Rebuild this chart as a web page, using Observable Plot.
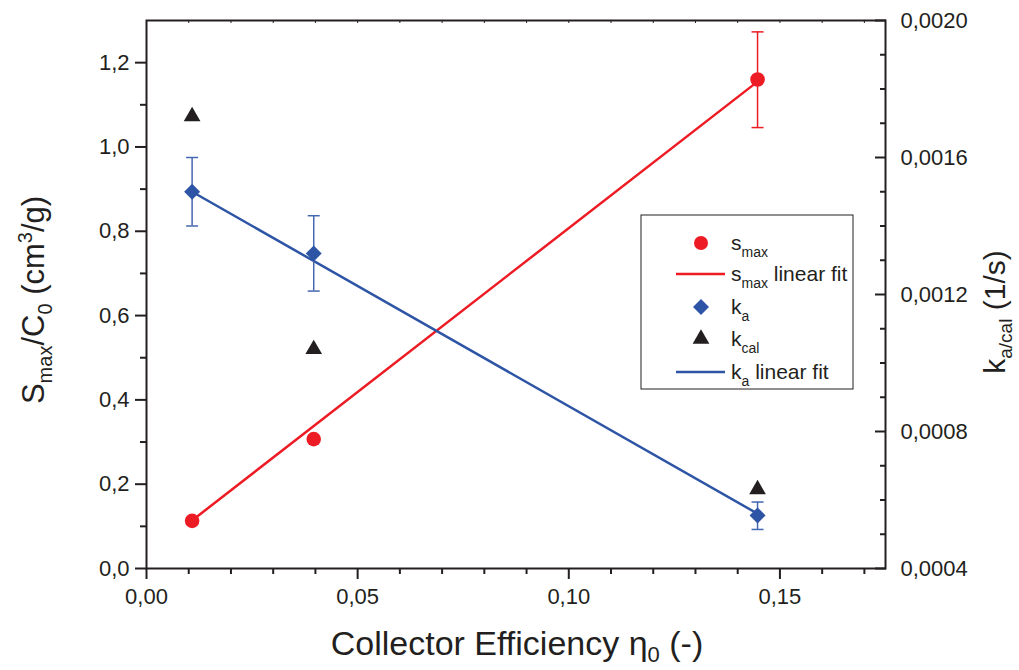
<!DOCTYPE html>
<html><head><meta charset="utf-8">
<script src="https://cdn.jsdelivr.net/npm/d3@7"></script>
<script src="https://cdn.jsdelivr.net/npm/@observablehq/plot@0.6"></script>
<style>body{margin:0;background:#fff}</style>
</head><body><div id="chart"></div>
<script>
// ---- data ----
const efficiency = [0.0108, 0.0396, 0.1447];
const sMax = [0.113, 0.307, 1.16];
const sMaxLow = [null, null, 1.046];
const sMaxHigh = [null, null, 1.273];
const kA = [0.00150, 0.00132, 0.000555];
const kALow = [0.00140, 0.00121, 0.000514];
const kAHigh = [0.00160, 0.00143, 0.000594];
const kCal = [0.00172, 0.00104, 0.000631];
const sFitX = [0.0108, 0.1447];
const sFitY = [0.114, 1.155];
const kFitX = [0.0108, 0.1447];
const kFitY = [0.00150, 0.00056];
const xTicks = [0, 0.05, 0.10, 0.15];
const xMinor = [0.01,0.02,0.03,0.04,0.06,0.07,0.08,0.09,0.11,0.12,0.13,0.14,0.16,0.17];
const yTicks = [0, 0.2, 0.4, 0.6, 0.8, 1.0, 1.2];
const yMinor = [0.1, 0.3, 0.5, 0.7, 0.9, 1.1];
const rightTicks = [0.0004, 0.0008, 0.0012, 0.0016, 0.0020];
const rightMinor = [0.0005,0.0006,0.0007,0.0009,0.0010,0.0011,0.0013,0.0014,0.0015,0.0017,0.0018,0.0019];
const xDomain = [0, 0.175];
const yDomain = [0, 1.3];
const rightDomain = [0.0004, 0.0020];

const RED = "#ed1c24", BLUE = "#2e55a5", BLUE_ERR = "#4468b0", BLACK = "#231f20";
const toLeft = d3.scaleLinear().domain(rightDomain).range(yDomain);
const comma = (d, n) => d.toFixed(n).replace(".", ",");

const sRows = efficiency.map((x, i) => ({x, y: sMax[i], lo: sMaxLow[i], hi: sMaxHigh[i]}));
const sErr = sRows.filter(d => d.lo != null);
const kRows = efficiency.map((x, i) => ({x, y: toLeft(kA[i]), lo: toLeft(kALow[i]), hi: toLeft(kAHigh[i]), c: toLeft(kCal[i])}));
const sFit = sFitX.map((x, i) => ({x, y: sFitY[i]}));
const kFit = kFitX.map((x, i) => ({x, y: toLeft(kFitY[i])}));

const cap = {draw(ctx, size) { const w = Math.sqrt(size / Math.PI); ctx.moveTo(-w, 0); ctx.lineTo(w, 0); }};
const SANS = "'Liberation Sans', Arial, sans-serif";

const plot = Plot.plot({
  width: 1019, height: 670,
  marginLeft: 146, marginRight: 134, marginTop: 20, marginBottom: 102,
  x: {domain: xDomain},
  y: {domain: yDomain},
  style: {fontFamily: SANS, background: "white", color: BLACK},
  marks: [
    Plot.axisX({ticks: xTicks, tickSize: 11, tickPadding: 9, tickFormat: d => comma(d, 2), fontSize: 22, strokeWidth: 2, label: null}),
    Plot.axisX({ticks: xMinor, tickSize: 6, tickFormat: () => "", strokeWidth: 2, label: null}),
    Plot.axisX({anchor: "top", ticks: xTicks.concat(xMinor), tickSize: -2, tickFormat: () => "", strokeWidth: 1, label: null}),
    Plot.axisY({ticks: yTicks, tickSize: 11, tickPadding: 6, tickFormat: d => comma(d, 1), fontSize: 22, strokeWidth: 2, label: null}),
    Plot.axisY({ticks: yMinor, tickSize: 6, tickFormat: () => "", strokeWidth: 2, label: null}),
    Plot.axisY({anchor: "right", ticks: rightTicks.map(toLeft), tickSize: -11, tickPadding: 26, tickFormat: d => comma(toLeft.invert(d), 4), fontSize: 22, strokeWidth: 2, label: null}),
    Plot.axisY({anchor: "right", ticks: rightMinor.map(toLeft), tickSize: -6, tickFormat: () => "", strokeWidth: 2, label: null}),
    Plot.frame({stroke: BLACK, strokeWidth: 2}),
    // s_max
    Plot.line(sFit, {x: "x", y: "y", stroke: RED, strokeWidth: 2.5}),
    Plot.ruleX(sErr, {x: "x", y1: "lo", y2: "hi", stroke: RED, strokeWidth: 1.5}),
    Plot.dot(sErr, {x: "x", y: "lo", symbol: cap, r: 6, stroke: RED, strokeWidth: 1.5}),
    Plot.dot(sErr, {x: "x", y: "hi", symbol: cap, r: 6, stroke: RED, strokeWidth: 1.5}),
    Plot.dot(sRows, {x: "x", y: "y", r: 7.3, fill: RED, stroke: null}),
    // k_a
    Plot.line(kFit, {x: "x", y: "y", stroke: BLUE, strokeWidth: 2.5}),
    Plot.ruleX(kRows, {x: "x", y1: "lo", y2: "hi", stroke: BLUE_ERR, strokeWidth: 1.5}),
    Plot.dot(kRows, {x: "x", y: "lo", symbol: cap, r: 6, stroke: BLUE_ERR, strokeWidth: 1.5}),
    Plot.dot(kRows, {x: "x", y: "hi", symbol: cap, r: 6, stroke: BLUE_ERR, strokeWidth: 1.5}),
    Plot.dot(kRows, {x: "x", y: "y", symbol: "diamond2", r: 7.2, fill: BLUE, stroke: null}),
    // k_cal
    Plot.dot(kRows, {x: "x", y: "c", symbol: "triangle", r: 6.2, fill: BLACK, stroke: null})
  ]
});

const svg = d3.select(plot);
function rich(sel, parts) {
  parts.forEach(p => {
    const t = sel.append("tspan").text(p.t);
    if (p.fs) t.attr("font-size", p.fs);
    if (p.dy) t.attr("dy", p.dy);
  });
}
// axis titles
const yt = svg.append("text").attr("transform", "translate(44,300) rotate(-90)")
  .attr("text-anchor", "middle").attr("font-size", 31).attr("font-family", SANS).attr("fill", BLACK);
rich(yt, [{t: "S"}, {t: "max", fs: 20, dy: 8}, {t: "/C", dy: -8}, {t: "0", fs: 20, dy: 8}, {t: " (cm", dy: -8}, {t: "3", fs: 20, dy: -12}, {t: "/g)", dy: 12}]);

const rt = svg.append("text").attr("transform", "translate(1005,312) rotate(-90)")
  .attr("text-anchor", "middle").attr("font-size", 30).attr("font-family", SANS).attr("fill", BLACK);
rich(rt, [{t: "k"}, {t: "a/cal", fs: 19, dy: 7}, {t: " (1/s)", dy: -7}]);

const xt = svg.append("text").attr("x", 517).attr("y", 655)
  .attr("text-anchor", "middle").attr("font-size", 34).attr("font-family", SANS).attr("fill", BLACK);
rich(xt, [{t: "Collector Efficiency η"}, {t: "0", fs: 22, dy: 7}, {t: " (-)", dy: -7}]);

// legend
const lg = svg.append("g").attr("font-family", SANS).attr("fill", BLACK);
lg.append("rect").attr("x", 641).attr("y", 215).attr("width", 212).attr("height", 174)
  .attr("fill", "white").attr("stroke", BLACK).attr("stroke-width", 1);
const rows = [
  {y: 243, kind: "dot", color: RED, parts: [{t: "s"}, {t: "max", fs: 14, dy: 7}]},
  {y: 274, kind: "line", color: RED, parts: [{t: "s"}, {t: "max", fs: 14, dy: 7}, {t: " linear fit", dy: -7}]},
  {y: 307, kind: "diamond", color: BLUE, parts: [{t: "k"}, {t: "a", fs: 14, dy: 7}]},
  {y: 339, kind: "tri", color: BLACK, parts: [{t: "k"}, {t: "cal", fs: 14, dy: 7}]},
  {y: 372, kind: "line", color: BLUE, parts: [{t: "k"}, {t: "a", fs: 14, dy: 7}, {t: " linear fit", dy: -7}]}
];
rows.forEach(r => {
  if (r.kind === "dot") lg.append("circle").attr("cx", 701).attr("cy", r.y).attr("r", 7).attr("fill", r.color);
  if (r.kind === "line") lg.append("line").attr("x1", 676).attr("x2", 725).attr("y1", r.y).attr("y2", r.y).attr("stroke", r.color).attr("stroke-width", 2.5);
  if (r.kind === "diamond") lg.append("path").attr("d", d3.symbol(d3.symbolDiamond2, Math.PI * 7.2 * 7.2)()).attr("transform", `translate(701,${r.y})`).attr("fill", r.color);
  if (r.kind === "tri") lg.append("path").attr("d", d3.symbol(d3.symbolTriangle, Math.PI * 6.2 * 6.2)()).attr("transform", `translate(701,${r.y})`).attr("fill", r.color);
  const t = lg.append("text").attr("x", 731).attr("y", r.y + 7).attr("font-size", 21).attr("text-anchor", "start");
  rich(t, r.parts);
});

document.getElementById("chart").appendChild(plot);
</script></body></html>
